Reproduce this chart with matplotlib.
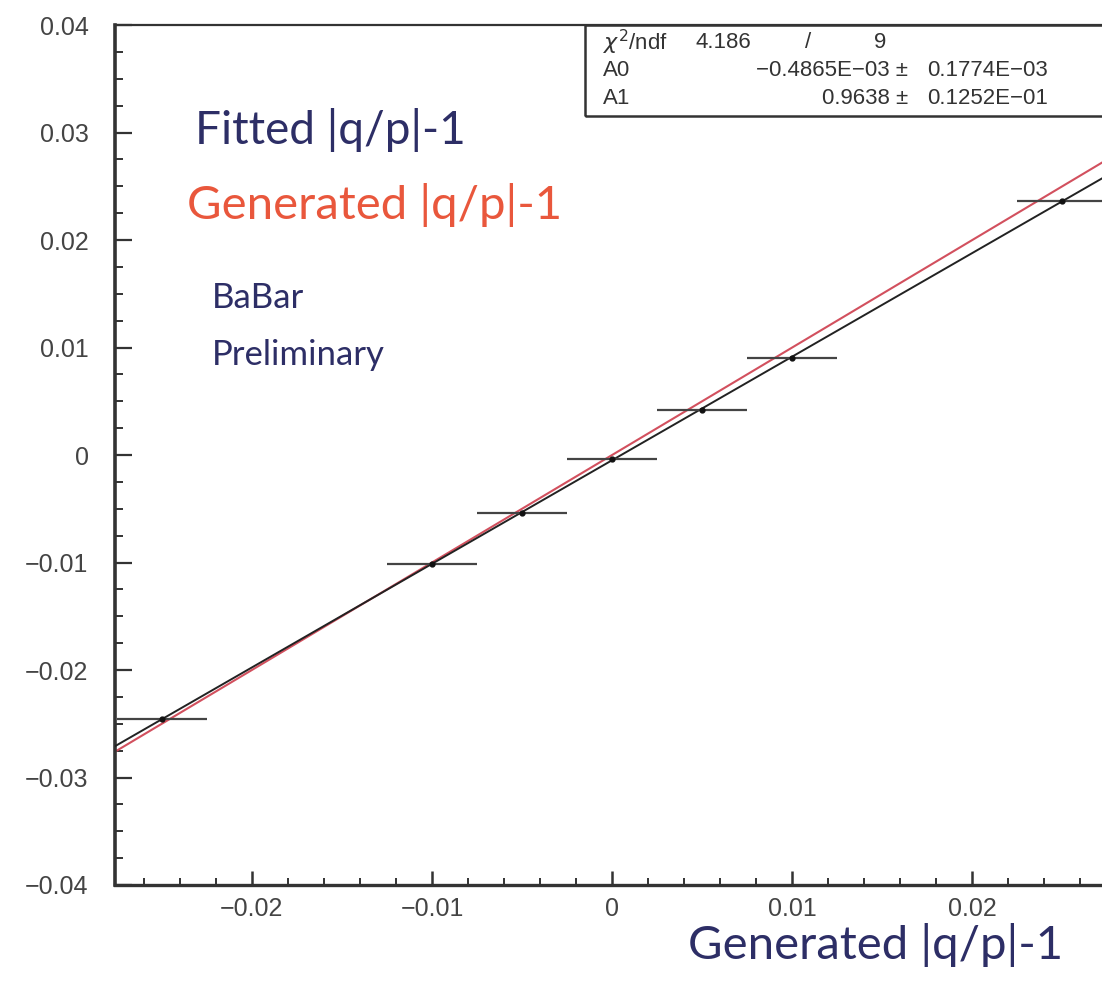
import numpy as np
import matplotlib.pyplot as plt
from matplotlib.patches import Rectangle

# generated vs fitted |q/p|-1
gen = [-0.025, -0.01, -0.005, 0.0, 0.005, 0.01, 0.025]
fit = [-0.02456, -0.01014, -0.0054, -0.00037, 0.0042, 0.0090, 0.02363]
xerr = [0.0025] * len(gen)

A0 = -0.4865e-03
A1 = 0.9638

xlo, xhi = -0.0276, 0.0272
ylo, yhi = -0.04, 0.04

navy = '#2d2e66'
orange = '#e9573c'

fig = plt.figure(figsize=(11.02, 9.81), dpi=100)
ax = fig.add_axes([115 / 1102, 1 - 885 / 981, 1 - 115 / 1102, (885 - 25) / 981])

xs = np.array([xlo, xhi])
ax.plot(xs, xs, color='#d2505e', lw=1.5, zorder=2)
ax.plot(xs, A0 + A1 * xs, color='#222222', lw=1.4, zorder=3)
ax.errorbar(gen, fit, xerr=xerr, fmt='o', ms=3.5, color='#111111',
            ecolor='#444444', elinewidth=1.6, capsize=0, zorder=4)

ax.set_xlim(xlo, xhi)
ax.set_ylim(ylo, yhi)
ax.set_xticks([-0.02, -0.01, 0, 0.01, 0.02])
ax.set_xticklabels(['\u22120.02', '\u22120.01', '0', '0.01', '0.02'])
ax.set_xticks(np.arange(-0.026, 0.0272, 0.002), minor=True)
ax.set_yticks([-0.04, -0.03, -0.02, -0.01, 0, 0.01, 0.02, 0.03, 0.04])
ax.set_yticklabels(['\u22120.04', '\u22120.03', '\u22120.02', '\u22120.01', '0',
                    '0.01', '0.02', '0.03', '0.04'])
ax.set_yticks(np.arange(-0.04, 0.0401, 0.0025), minor=True)

ax.tick_params(axis='both', which='both', direction='in', colors='#333333',
               labelcolor='#444444', labelsize=18)
ax.tick_params(axis='y', which='major', length=12, width=1.6, pad=19)
ax.tick_params(axis='y', which='minor', length=6, width=1.4)
ax.tick_params(axis='x', which='major', length=10, width=1.8, pad=9)
ax.tick_params(axis='x', which='minor', length=5, width=1.4)
for lab in ax.get_xticklabels() + ax.get_yticklabels():
    lab.set_family('Liberation Sans')
ax.spines['right'].set_visible(False)
ax.spines['left'].set_linewidth(2.6)
ax.spines['bottom'].set_linewidth(2.4)
ax.spines['top'].set_linewidth(1.6)
for s in ax.spines.values():
    s.set_color('#333333')

# stats box
bx0 = (585 - 115) / (1102 - 115)
by0 = (885 - 116) / 860
ax.add_patch(Rectangle((bx0, by0), 1.2 - bx0, 1 - by0, transform=ax.transAxes,
                       fill=False, ec='#333333', lw=1.8, clip_on=False, zorder=5))
stat_kw = dict(transform=fig.transFigure, fontsize=16, color='#333333',
               family='Liberation Sans', va='center')
fig.text(603 / 1102, 1 - 42 / 981, r'$\chi^2$/ndf', **stat_kw)
fig.text(695 / 1102, 1 - 42 / 981, '4.186', **stat_kw)
fig.text(808 / 1102, 1 - 42 / 981, '/', ha='center', **stat_kw)
fig.text(880 / 1102, 1 - 42 / 981, '9', ha='center', **stat_kw)
fig.text(603 / 1102, 1 - 70 / 981, 'A0', **stat_kw)
fig.text(603 / 1102, 1 - 98 / 981, 'A1', **stat_kw)
fig.text(908 / 1102, 1 - 70 / 981, '\u22120.4865E\u221203 \u00b1', ha='right', **stat_kw)
fig.text(908 / 1102, 1 - 98 / 981, '0.9638 \u00b1', ha='right', **stat_kw)
fig.text(927 / 1102, 1 - 70 / 981, '0.1774E\u221203', **stat_kw)
fig.text(927 / 1102, 1 - 98 / 981, '0.1252E\u221201', **stat_kw)

label_kw = dict(transform=fig.transFigure, family='Lato', va='center')
fig.text(195 / 1102, 1 - 130 / 981, 'Fitted |q/p|-1', color=navy, fontsize=33, **label_kw)
fig.text(187 / 1102, 1 - 205 / 981, 'Generated |q/p|-1', color=orange, fontsize=34, **label_kw)
fig.text(212 / 1102, 1 - 298 / 981, 'BaBar', color=navy, fontsize=25, **label_kw)
fig.text(212 / 1102, 1 - 355 / 981, 'Preliminary', color=navy, fontsize=25, **label_kw)
fig.text(688 / 1102, 1 - 945 / 981, 'Generated |q/p|-1', color=navy, fontsize=34, **label_kw)

plt.savefig('out.png', dpi=100)
